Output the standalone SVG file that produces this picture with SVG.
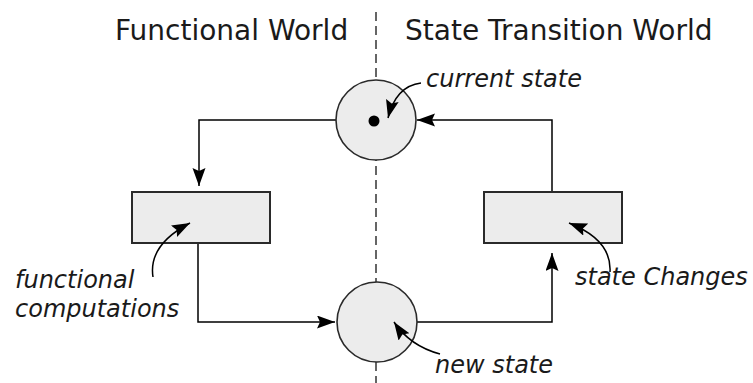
<svg xmlns="http://www.w3.org/2000/svg" width="753" height="383" viewBox="0 0 753 383">
  <style>
    .title { font-family: "DejaVu Sans", "Liberation Sans", sans-serif; font-size: 28px; fill: #1a1a1a; }
    .label { font-family: "DejaVu Sans", "Liberation Sans", sans-serif; font-size: 24px; font-style: oblique; fill: #1a1a1a; }
    .state { fill: #ececec; stroke: #2a2a2a; stroke-width: 1.6; }
    .box { fill: #ececec; stroke: #2a2a2a; stroke-width: 2; }
    .edge { fill: none; stroke: #000; stroke-width: 1.5; marker-end: url(#head); }
    .pointer { fill: none; stroke: #000; stroke-width: 1.5; marker-end: url(#head); }
    .divider { stroke: #333; stroke-width: 1.5; stroke-dasharray: 9 5; }
  </style>
  <defs>
    <!-- filled arrowhead with a slightly notched back; the path end sits at the tip -->
    <marker id="head" markerUnits="userSpaceOnUse" markerWidth="19" markerHeight="14" refX="18" refY="6.5" orient="auto">
      <path d="M0,0 L18,6.5 L0,13 L3,6.5 z" fill="#000"/>
    </marker>
  </defs>

  <rect width="753" height="383" fill="#fff"/>

  <!-- world headings and the dividing line -->
  <text class="title" x="115" y="40">Functional World</text>
  <text class="title" x="405" y="40">State Transition World</text>
  <line class="divider" x1="376" y1="12" x2="376" y2="383"/>

  <!-- connectors -->
  <g id="connectors">
    <path class="edge" d="M336,120 H199 V186"/>
    <path class="edge" d="M198,243 V322 H335"/>
    <path class="edge" d="M417,322 H552 V253"/>
    <path class="edge" d="M552,192 V120 H417"/>
  </g>

  <!-- nodes -->
  <g id="current-state">
    <circle class="state" cx="376" cy="120" r="40"/>
    <circle cx="374" cy="121" r="5.5" fill="#000"/>
  </g>
  <g id="new-state">
    <circle class="state" cx="377" cy="322" r="40"/>
  </g>
  <g id="functional-computations">
    <rect class="box" x="132" y="192" width="138" height="51"/>
  </g>
  <g id="state-changes">
    <rect class="box" x="484" y="192" width="138" height="51"/>
  </g>

  <!-- annotation labels with pointers -->
  <g id="label-current-state">
    <text class="label" x="426" y="87">current state</text>
    <path class="pointer" d="M421,83 Q396,86 388,118"/>
  </g>
  <g id="label-functional-computations">
    <text class="label" x="15" y="288">functional</text>
    <text class="label" x="15" y="317">computations</text>
    <path class="pointer" d="M153,277 Q148,245 190,223"/>
  </g>
  <g id="label-state-changes">
    <text class="label" x="575" y="285">state Changes</text>
    <path class="pointer" d="M610,272 Q612,240 569,223"/>
  </g>
  <g id="label-new-state">
    <text class="label" x="435" y="373">new state</text>
    <path class="pointer" d="M440,354 Q410,346 394,322"/>
  </g>
</svg>
